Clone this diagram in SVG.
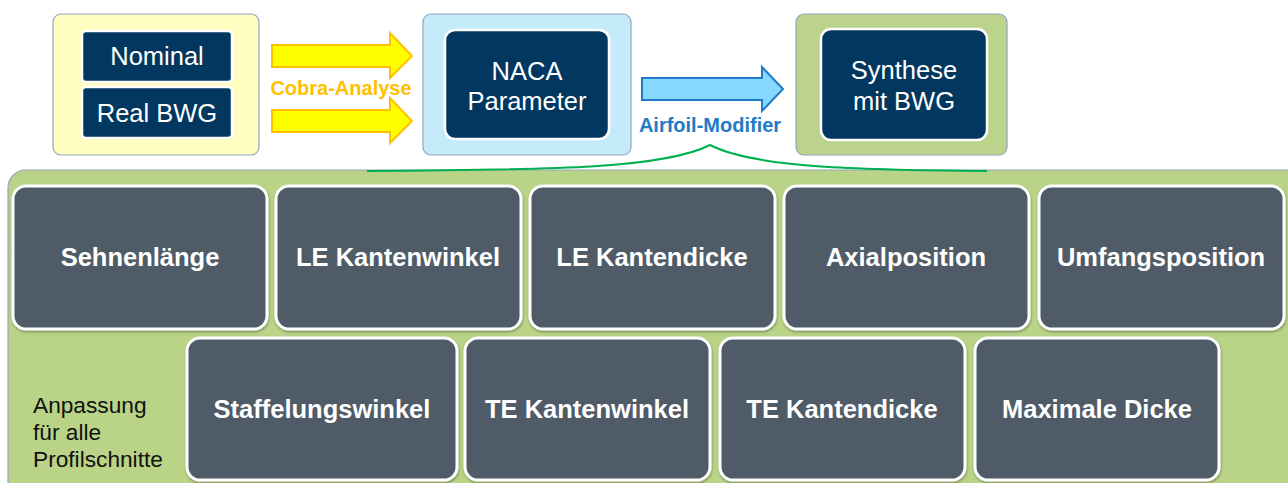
<svg xmlns="http://www.w3.org/2000/svg" width="1288" height="483" viewBox="0 0 1288 483">
  <defs>
    <style>
      .outer { stroke: #8FA6BE; stroke-width: 1.2; }
      .navy { fill: #02375F; stroke: #FFFFFF; stroke-width: 2.5; }
      .param { fill: #4F5B68; stroke: #FFFFFF; stroke-width: 3; filter: url(#shadow); }
      .t-navy { font-family: "Liberation Sans", Arial, sans-serif; font-size: 25.5px; fill: #FFFFFF; text-anchor: middle; }
      .t-param { font-family: "Liberation Sans", Arial, sans-serif; font-size: 25.5px; font-weight: bold; fill: #FFFFFF; text-anchor: middle; }
      .t-label { font-family: "Liberation Sans", Arial, sans-serif; font-size: 20px; font-weight: bold; text-anchor: middle; }
      .t-note { font-family: "Liberation Sans", Arial, sans-serif; font-size: 22.7px; fill: #111111; }
    </style>
    <filter id="shadow" x="-5%" y="-5%" width="110%" height="115%">
      <feDropShadow dx="0.5" dy="1.5" stdDeviation="1.2" flood-color="#000000" flood-opacity="0.35"/>
    </filter>
  </defs>

  <rect width="1288" height="483" fill="#FFFFFF"/>

  <!-- input models -->
  <g id="inputs">
    <rect class="outer" x="53" y="14" width="206" height="141" rx="8" fill="#FFFDC0"/>
    <rect class="navy" x="82" y="31" width="150" height="51" rx="4"/>
    <text class="t-navy" x="157" y="65">Nominal</text>
    <rect class="navy" x="82" y="87" width="150" height="51" rx="4"/>
    <text class="t-navy" x="157" y="122">Real BWG</text>
  </g>

  <!-- NACA parameter set -->
  <g id="naca">
    <rect class="outer" x="423" y="14" width="208" height="141" rx="8" fill="#C5EBFB"/>
    <rect class="navy" x="445" y="30" width="164" height="109" rx="10"/>
    <text class="t-navy" x="527" y="80">NACA</text>
    <text class="t-navy" x="527" y="110">Parameter</text>
  </g>

  <!-- synthesis -->
  <g id="synthese">
    <rect class="outer" x="796" y="14" width="211" height="141" rx="8" fill="#BCD38B"/>
    <rect class="navy" x="821" y="29" width="166" height="111" rx="10"/>
    <text class="t-navy" x="904" y="79">Synthese</text>
    <text class="t-navy" x="904" y="110">mit BWG</text>
  </g>

  <!-- connectors -->
  <g id="connectors">
    <polygon points="272,45 390,45 390,33 412,56 390,78 390,67 272,67" fill="#FFFF00" stroke="#FFC000" stroke-width="2" stroke-linejoin="miter"/>
    <polygon points="272,110 390,110 390,98 412,121 390,143 390,132 272,132" fill="#FFFF00" stroke="#FFC000" stroke-width="2" stroke-linejoin="miter"/>
    <text class="t-label" x="341" y="95" fill="#FFC000">Cobra-Analyse</text>
    <polygon points="642,78 762,78 762,67 783,89 762,111 762,100 642,100" fill="#85D8FF" stroke="#1F7BC6" stroke-width="2" stroke-linejoin="miter"/>
    <text class="t-label" x="710" y="132" fill="#1F7BC6">Airfoil-Modifier</text>
  </g>

  <!-- parameter panel -->
  <g id="panel">
    <rect class="outer" x="8" y="170" width="1300" height="340" rx="18" fill="#B9D387"/>
    <path d="M367,171 C560,170 665,168 710,145 C755,168 860,170 987,171" fill="none" stroke="#00B050" stroke-width="2"/>
  </g>

  <g id="sehnenlaenge">
    <rect class="param" x="13" y="186" width="254" height="143" rx="13"/>
    <text class="t-param" x="140" y="266">Sehnenlänge</text>
  </g>
  <g id="le-kantenwinkel">
    <rect class="param" x="276" y="186" width="245" height="143" rx="13"/>
    <text class="t-param" x="398" y="266">LE Kantenwinkel</text>
  </g>
  <g id="le-kantendicke">
    <rect class="param" x="530" y="186" width="245" height="143" rx="13"/>
    <text class="t-param" x="652" y="266">LE Kantendicke</text>
  </g>
  <g id="axialposition">
    <rect class="param" x="784" y="186" width="245" height="143" rx="13"/>
    <text class="t-param" x="906" y="266">Axialposition</text>
  </g>
  <g id="umfangsposition">
    <rect class="param" x="1039" y="186" width="245" height="143" rx="13"/>
    <text class="t-param" x="1161" y="266">Umfangsposition</text>
  </g>

  <g id="staffelungswinkel">
    <rect class="param" x="187" y="338" width="270" height="142" rx="13"/>
    <text class="t-param" x="322" y="418">Staffelungswinkel</text>
  </g>
  <g id="te-kantenwinkel">
    <rect class="param" x="465" y="338" width="245" height="142" rx="13"/>
    <text class="t-param" x="587" y="418">TE Kantenwinkel</text>
  </g>
  <g id="te-kantendicke">
    <rect class="param" x="720" y="338" width="245" height="142" rx="13"/>
    <text class="t-param" x="842" y="418">TE Kantendicke</text>
  </g>
  <g id="maximale-dicke">
    <rect class="param" x="975" y="338" width="244" height="142" rx="13"/>
    <text class="t-param" x="1097" y="418">Maximale Dicke</text>
  </g>

  <g id="note">
    <text class="t-note" x="33" y="413">Anpassung</text>
    <text class="t-note" x="33" y="440">für alle</text>
    <text class="t-note" x="33" y="467">Profilschnitte</text>
  </g>
</svg>
